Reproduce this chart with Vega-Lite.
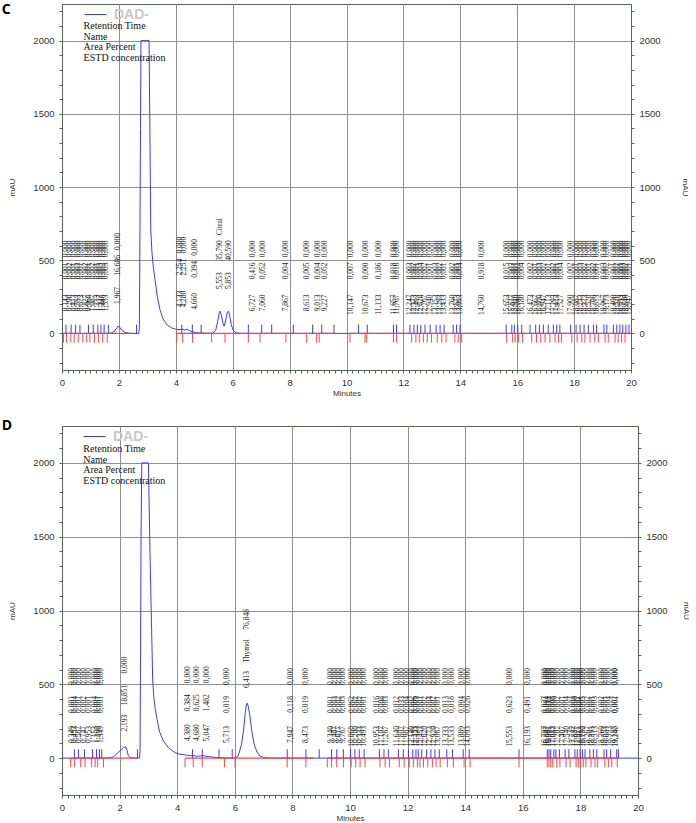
{
"$schema":"https://vega.github.io/schema/vega-lite/v6.json",
"background":"white",
"padding":{"left":1,"top":2,"right":0,"bottom":0},
"spacing":20,
"resolve":{"scale":{"color":"independent"},"legend":{"color":"independent"}},
"config":{
 "view":{"stroke":"#55655a","strokeWidth":1},
 "axis":{"labelFont":"Liberation Sans","labelFontSize":9.5,"labelColor":"#333333","titleFont":"Liberation Sans","titleFontSize":8,"titleFontWeight":"normal","titleColor":"#333333","domainColor":"#55655a","tickColor":"#55655a","tickSize":3,"gridColor":"#8f8f8f","gridWidth":1}
},
"datasets":{
 "cSig":[{"t":0,"v":0},{"t":1.6,"v":0},{"t":1.72,"v":2},{"t":1.82,"v":10},{"t":1.9,"v":30},{"t":1.97,"v":50},{"t":2.03,"v":42},{"t":2.1,"v":22},{"t":2.2,"v":8},{"t":2.32,"v":2},{"t":2.45,"v":0},{"t":2.7,"v":0},{"t":2.72,"v":40},{"t":2.74,"v":700},{"t":2.76,"v":1400},{"t":2.775,"v":2000},{"t":3.06,"v":2000},{"t":3.09,"v":1370},{"t":3.12,"v":709},{"t":3.16,"v":560},{"t":3.21,"v":450},{"t":3.27,"v":368},{"t":3.35,"v":250},{"t":3.44,"v":164},{"t":3.55,"v":100},{"t":3.68,"v":61},{"t":3.85,"v":38},{"t":4.03,"v":27},{"t":4.15,"v":25},{"t":4.22,"v":30},{"t":4.3,"v":24},{"t":4.38,"v":28},{"t":4.45,"v":22},{"t":4.55,"v":12},{"t":4.7,"v":5},{"t":4.9,"v":2},{"t":5.2,"v":1},{"t":5.3,"v":2},{"t":5.4,"v":20},{"t":5.47,"v":80},{"t":5.53,"v":145},{"t":5.56,"v":152},{"t":5.6,"v":125},{"t":5.66,"v":70},{"t":5.7,"v":50},{"t":5.75,"v":85},{"t":5.81,"v":145},{"t":5.85,"v":152},{"t":5.89,"v":125},{"t":5.95,"v":60},{"t":6.02,"v":20},{"t":6.12,"v":4},{"t":6.3,"v":0},{"t":20,"v":0}],
 "dSig":[{"t":0,"v":0},{"t":1.5,"v":0},{"t":1.67,"v":3},{"t":1.8,"v":10},{"t":1.94,"v":37},{"t":2.05,"v":55},{"t":2.13,"v":70},{"t":2.21,"v":77},{"t":2.26,"v":52},{"t":2.3,"v":18},{"t":2.36,"v":4},{"t":2.5,"v":0},{"t":2.69,"v":0},{"t":2.71,"v":50},{"t":2.725,"v":600},{"t":2.745,"v":1500},{"t":2.77,"v":2000},{"t":3.0,"v":2000},{"t":3.06,"v":1340},{"t":3.12,"v":800},{"t":3.15,"v":522},{"t":3.19,"v":409},{"t":3.24,"v":330},{"t":3.29,"v":273},{"t":3.38,"v":183},{"t":3.52,"v":115},{"t":3.7,"v":70},{"t":3.93,"v":36},{"t":4.1,"v":26},{"t":4.33,"v":20},{"t":4.45,"v":16},{"t":4.55,"v":18},{"t":4.65,"v":13},{"t":4.8,"v":14},{"t":4.9,"v":17},{"t":5.0,"v":12},{"t":5.1,"v":10},{"t":5.25,"v":6},{"t":5.45,"v":3},{"t":5.7,"v":1},{"t":6.0,"v":0},{"t":6.1,"v":10},{"t":6.16,"v":41},{"t":6.23,"v":90},{"t":6.3,"v":183},{"t":6.36,"v":300},{"t":6.4,"v":360},{"t":6.43,"v":373},{"t":6.47,"v":350},{"t":6.52,"v":290},{"t":6.59,"v":183},{"t":6.67,"v":95},{"t":6.77,"v":41},{"t":6.87,"v":15},{"t":7.0,"v":4},{"t":7.2,"v":0},{"t":20,"v":0}],
 "cBase":[{"t":0.05,"v":0,"seg":1},{"t":2.5,"v":0,"seg":1},{"t":4.0,"v":0,"seg":2},{"t":9.56,"v":0,"seg":2},{"t":10.12,"v":0,"seg":3},{"t":19.93,"v":0,"seg":3}],
 "dBase":[{"t":0.3,"v":0,"seg":1},{"t":2.6,"v":0,"seg":1},{"t":4.27,"v":0,"seg":2},{"t":8.75,"v":0,"seg":2},{"t":9.21,"v":0,"seg":3},{"t":19.28,"v":0,"seg":3}],
 "cStart":[{"t":0.14},{"t":0.32},{"t":0.48},{"t":0.63},{"t":0.93},{"t":1.1},{"t":1.26},{"t":1.37},{"t":1.48},{"t":1.63},{"t":2.62},{"t":4.21},{"t":4.58},{"t":4.89},{"t":6.55},{"t":7.02},{"t":7.37},{"t":8.13},{"t":8.81},{"t":9.13},{"t":9.56},{"t":10.42},{"t":10.73},{"t":11.65},{"t":11.76},{"t":12.23},{"t":12.37},{"t":12.49},{"t":12.61},{"t":12.76},{"t":12.94},{"t":13.15},{"t":13.29},{"t":13.43},{"t":13.75},{"t":13.87},{"t":13.99},{"t":15.61},{"t":15.81},{"t":15.9},{"t":16.02},{"t":16.16},{"t":16.45},{"t":16.65},{"t":16.78},{"t":16.92},{"t":17.09},{"t":17.27},{"t":17.39},{"t":17.5},{"t":17.88},{"t":18.07},{"t":18.21},{"t":18.35},{"t":18.5},{"t":18.68},{"t":18.79},{"t":19.05},{"t":19.15},{"t":19.38},{"t":19.5},{"t":19.61},{"t":19.71},{"t":19.82},{"t":19.93}],
 "cEnd":[{"t":0.05},{"t":0.16},{"t":0.31},{"t":0.43},{"t":0.57},{"t":0.73},{"t":0.87},{"t":0.98},{"t":1.14},{"t":1.28},{"t":1.43},{"t":1.59},{"t":4.03},{"t":4.24},{"t":4.59},{"t":5.26},{"t":5.73},{"t":6.55},{"t":6.96},{"t":7.87},{"t":8.6},{"t":8.95},{"t":9.04},{"t":10.12},{"t":10.65},{"t":10.71},{"t":11.65},{"t":11.76},{"t":12.29},{"t":12.44},{"t":12.56},{"t":12.7},{"t":12.84},{"t":12.99},{"t":13.19},{"t":13.35},{"t":13.5},{"t":13.81},{"t":13.93},{"t":14.05},{"t":15.63},{"t":15.84},{"t":15.93},{"t":16.05},{"t":16.19},{"t":16.51},{"t":16.68},{"t":16.83},{"t":16.98},{"t":17.15},{"t":17.33},{"t":17.45},{"t":17.56},{"t":17.92},{"t":18.11},{"t":18.27},{"t":18.38},{"t":18.56},{"t":18.73},{"t":18.85},{"t":19.09},{"t":19.2},{"t":19.44},{"t":19.55},{"t":19.67},{"t":19.79}],
 "dStart":[{"t":0.43},{"t":0.57},{"t":0.78},{"t":1.06},{"t":1.2},{"t":1.3},{"t":1.38},{"t":2.62},{"t":4.53},{"t":4.87},{"t":5.45},{"t":5.91},{"t":7.82},{"t":8.47},{"t":8.93},{"t":9.36},{"t":9.54},{"t":9.77},{"t":10.02},{"t":10.17},{"t":10.32},{"t":10.49},{"t":11.02},{"t":11.18},{"t":11.33},{"t":11.68},{"t":11.85},{"t":12.03},{"t":12.18},{"t":12.29},{"t":12.37},{"t":12.49},{"t":12.66},{"t":12.81},{"t":12.95},{"t":13.1},{"t":13.36},{"t":13.56},{"t":13.93},{"t":14.14},{"t":15.87},{"t":16.85},{"t":16.91},{"t":16.97},{"t":17.08},{"t":17.15},{"t":17.27},{"t":17.47},{"t":17.6},{"t":17.81},{"t":17.89},{"t":17.99},{"t":18.07},{"t":18.16},{"t":18.33},{"t":18.45},{"t":18.57},{"t":18.82},{"t":18.91},{"t":19.05},{"t":19.26},{"t":19.32}],
 "dEnd":[{"t":0.3},{"t":0.43},{"t":0.65},{"t":0.8},{"t":1.03},{"t":1.15},{"t":1.24},{"t":1.44},{"t":4.27},{"t":4.56},{"t":4.87},{"t":5.64},{"t":6.01},{"t":7.82},{"t":8.47},{"t":9.21},{"t":9.36},{"t":9.54},{"t":9.77},{"t":10.04},{"t":10.2},{"t":10.35},{"t":10.52},{"t":11.04},{"t":11.22},{"t":11.37},{"t":11.71},{"t":11.88},{"t":12.06},{"t":12.2},{"t":12.34},{"t":12.43},{"t":12.55},{"t":12.7},{"t":12.86},{"t":12.99},{"t":13.13},{"t":13.38},{"t":13.59},{"t":13.96},{"t":14.17},{"t":15.87},{"t":16.85},{"t":16.91},{"t":16.97},{"t":17.04},{"t":17.18},{"t":17.29},{"t":17.5},{"t":17.64},{"t":17.85},{"t":17.93},{"t":18.01},{"t":18.1},{"t":18.19},{"t":18.37},{"t":18.51},{"t":18.6},{"t":18.85},{"t":18.97},{"t":19.09},{"t":19.28}],
 "cPeaks":[
{"t":0.143,"rt":"0,143","name":"","area":"0,001","conc":"0,000","h":0},
{"t":0.29,"rt":"0,290","name":"","area":"0,002","conc":"0,000","h":0},
{"t":0.413,"rt":"0,413","name":"","area":"0,001","conc":"0,000","h":0},
{"t":0.553,"rt":"0,553","name":"","area":"0,003","conc":"0,000","h":0},
{"t":0.673,"rt":"0,673","name":"","area":"0,001","conc":"0,000","h":0},
{"t":0.827,"rt":"0,827","name":"","area":"0,002","conc":"0,000","h":0},
{"t":0.96,"rt":"0,960","name":"","area":"0,001","conc":"0,000","h":0},
{"t":1.087,"rt":"1,087","name":"","area":"0,002","conc":"0,000","h":0},
{"t":1.213,"rt":"1,213","name":"","area":"0,001","conc":"0,000","h":0},
{"t":1.327,"rt":"1,327","name":"","area":"0,003","conc":"0,000","h":0},
{"t":1.44,"rt":"1,440","name":"","area":"0,002","conc":"0,000","h":0},
{"t":1.553,"rt":"1,553","name":"","area":"0,003","conc":"0,000","h":0},
{"t":1.967,"rt":"1,967","name":"","area":"16,686","conc":"0,000","h":50},
{"t":4.133,"rt":"4,133","name":"","area":"2,254","conc":"0,000","h":25},
{"t":4.28,"rt":"4,280","name":"","area":"2,251","conc":"0,000","h":25},
{"t":4.66,"rt":"4,660","name":"","area":"0,394","conc":"0,000","h":10},
{"t":5.553,"rt":"5,553","name":"Citral","area":"35,790","conc":"","h":152},
{"t":5.853,"rt":"5,853","name":"","area":"40,590","conc":"","h":152},
{"t":6.727,"rt":"6,727","name":"","area":"0,416","conc":"0,000","h":0},
{"t":7.06,"rt":"7,060","name":"","area":"0,052","conc":"0,000","h":0},
{"t":7.867,"rt":"7,867","name":"","area":"0,004","conc":"0,000","h":0},
{"t":8.613,"rt":"8,613","name":"","area":"0,005","conc":"0,000","h":0},
{"t":9.013,"rt":"9,013","name":"","area":"0,004","conc":"0,000","h":0},
{"t":9.227,"rt":"9,227","name":"","area":"0,052","conc":"0,000","h":0},
{"t":10.147,"rt":"10,147","name":"","area":"0,007","conc":"0,000","h":0},
{"t":10.673,"rt":"10,673","name":"","area":"0,000","conc":"0,000","h":0},
{"t":11.133,"rt":"11,133","name":"","area":"0,186","conc":"0,000","h":0},
{"t":11.657,"rt":"11,657","name":"","area":"0,018","conc":"0,000","h":0},
{"t":11.767,"rt":"11,767","name":"","area":"0,016","conc":"0,000","h":0},
{"t":12.247,"rt":"12,247","name":"","area":"0,003","conc":"0,000","h":0},
{"t":12.373,"rt":"12,373","name":"","area":"0,002","conc":"0,000","h":0},
{"t":12.493,"rt":"12,493","name":"","area":"0,001","conc":"0,000","h":0},
{"t":12.62,"rt":"12,620","name":"","area":"0,004","conc":"0,000","h":0},
{"t":12.767,"rt":"12,767","name":"","area":"0,002","conc":"0,000","h":0},
{"t":12.94,"rt":"12,940","name":"","area":"0,001","conc":"0,000","h":0},
{"t":13.153,"rt":"13,153","name":"","area":"0,003","conc":"0,000","h":0},
{"t":13.293,"rt":"13,293","name":"","area":"0,002","conc":"0,000","h":0},
{"t":13.433,"rt":"13,433","name":"","area":"0,001","conc":"0,000","h":0},
{"t":13.76,"rt":"13,760","name":"","area":"0,002","conc":"0,000","h":0},
{"t":13.873,"rt":"13,873","name":"","area":"0,001","conc":"0,000","h":0},
{"t":13.993,"rt":"13,993","name":"","area":"0,004","conc":"0,000","h":0},
{"t":14.76,"rt":"14,760","name":"","area":"0,918","conc":"0,000","h":0},
{"t":15.653,"rt":"15,653","name":"","area":"0,015","conc":"0,000","h":0},
{"t":15.827,"rt":"15,827","name":"","area":"0,003","conc":"0,000","h":0},
{"t":15.92,"rt":"15,920","name":"","area":"0,001","conc":"0,000","h":0},
{"t":16.04,"rt":"16,040","name":"","area":"0,002","conc":"0,000","h":0},
{"t":16.18,"rt":"16,180","name":"","area":"0,004","conc":"0,000","h":0},
{"t":16.473,"rt":"16,473","name":"","area":"0,002","conc":"0,000","h":0},
{"t":16.667,"rt":"16,667","name":"","area":"0,001","conc":"0,000","h":0},
{"t":16.8,"rt":"16,800","name":"","area":"0,003","conc":"0,000","h":0},
{"t":16.947,"rt":"16,947","name":"","area":"0,002","conc":"0,000","h":0},
{"t":17.113,"rt":"17,113","name":"","area":"0,001","conc":"0,000","h":0},
{"t":17.293,"rt":"17,293","name":"","area":"0,002","conc":"0,000","h":0},
{"t":17.413,"rt":"17,413","name":"","area":"0,001","conc":"0,000","h":0},
{"t":17.527,"rt":"17,527","name":"","area":"0,004","conc":"0,000","h":0},
{"t":17.9,"rt":"17,900","name":"","area":"0,002","conc":"0,000","h":0},
{"t":18.087,"rt":"18,087","name":"","area":"0,001","conc":"0,000","h":0},
{"t":18.233,"rt":"18,233","name":"","area":"0,003","conc":"0,000","h":0},
{"t":18.373,"rt":"18,373","name":"","area":"0,002","conc":"0,000","h":0},
{"t":18.52,"rt":"18,520","name":"","area":"0,001","conc":"0,000","h":0},
{"t":18.7,"rt":"18,700","name":"","area":"0,002","conc":"0,000","h":0},
{"t":18.813,"rt":"18,813","name":"","area":"0,001","conc":"0,000","h":0},
{"t":19.067,"rt":"19,067","name":"","area":"0,003","conc":"0,000","h":0},
{"t":19.173,"rt":"19,173","name":"","area":"0,002","conc":"0,000","h":0},
{"t":19.4,"rt":"19,400","name":"","area":"0,001","conc":"0,000","h":0},
{"t":19.52,"rt":"19,520","name":"","area":"0,002","conc":"0,000","h":0},
{"t":19.633,"rt":"19,633","name":"","area":"0,001","conc":"0,000","h":0},
{"t":19.733,"rt":"19,733","name":"","area":"0,003","conc":"0,000","h":0},
{"t":19.84,"rt":"19,840","name":"","area":"0,002","conc":"0,000","h":0},
{"t":19.947,"rt":"19,947","name":"","area":"0,001","conc":"0,000","h":0}],
 "dPeaks":[
{"t":0.349,"rt":"0,349","name":"","area":"0,001","conc":"0,000","h":0},
{"t":0.453,"rt":"0,453","name":"","area":"0,004","conc":"0,000","h":0},
{"t":0.587,"rt":"0,587","name":"","area":"0,001","conc":"0,000","h":0},
{"t":0.747,"rt":"0,747","name":"","area":"0,002","conc":"0,000","h":0},
{"t":0.953,"rt":"0,953","name":"","area":"0,001","conc":"0,000","h":0},
{"t":1.153,"rt":"1,153","name":"","area":"0,004","conc":"0,000","h":0},
{"t":1.26,"rt":"1,260","name":"","area":"0,001","conc":"0,000","h":0},
{"t":1.349,"rt":"1,349","name":"","area":"0,001","conc":"0,000","h":0},
{"t":2.193,"rt":"2,193","name":"","area":"18,851","conc":"0,000","h":77},
{"t":4.38,"rt":"4,380","name":"","area":"0,384","conc":"0,000","h":12},
{"t":4.68,"rt":"4,680","name":"","area":"0,625","conc":"0,000","h":12},
{"t":5.047,"rt":"5,047","name":"","area":"1,482","conc":"0,000","h":12},
{"t":5.713,"rt":"5,713","name":"","area":"0,019","conc":"0,000","h":0},
{"t":6.413,"rt":"6,413","name":"Thymol","area":"76,848","conc":"","h":373},
{"t":7.947,"rt":"7,947","name":"","area":"0,118","conc":"0,000","h":0},
{"t":8.473,"rt":"8,473","name":"","area":"0,019","conc":"0,000","h":0},
{"t":9.34,"rt":"9,340","name":"","area":"0,001","conc":"0,000","h":0},
{"t":9.487,"rt":"9,487","name":"","area":"0,003","conc":"0,000","h":0},
{"t":9.617,"rt":"9,617","name":"","area":"0,002","conc":"0,000","h":0},
{"t":9.767,"rt":"9,767","name":"","area":"0,003","conc":"0,000","h":0},
{"t":10.06,"rt":"10,060","name":"","area":"0,062","conc":"0,000","h":0},
{"t":10.2,"rt":"10,200","name":"","area":"0,062","conc":"0,000","h":0},
{"t":10.333,"rt":"10,333","name":"","area":"0,002","conc":"0,000","h":0},
{"t":10.493,"rt":"10,493","name":"","area":"0,001","conc":"0,000","h":0},
{"t":10.953,"rt":"10,953","name":"","area":"0,016","conc":"0,000","h":0},
{"t":11.107,"rt":"11,107","name":"","area":"0,008","conc":"0,000","h":0},
{"t":11.267,"rt":"11,267","name":"","area":"0,003","conc":"0,000","h":0},
{"t":11.64,"rt":"11,640","name":"","area":"0,012","conc":"0,000","h":0},
{"t":11.807,"rt":"11,807","name":"","area":"0,033","conc":"0,000","h":0},
{"t":11.987,"rt":"11,987","name":"","area":"0,004","conc":"0,000","h":0},
{"t":12.14,"rt":"12,140","name":"","area":"0,002","conc":"0,000","h":0},
{"t":12.253,"rt":"12,253","name":"","area":"0,006","conc":"0,000","h":0},
{"t":12.333,"rt":"12,333","name":"","area":"0,003","conc":"0,000","h":0},
{"t":12.453,"rt":"12,453","name":"","area":"0,001","conc":"0,000","h":0},
{"t":12.62,"rt":"12,620","name":"","area":"0,002","conc":"0,000","h":0},
{"t":12.773,"rt":"12,773","name":"","area":"0,004","conc":"0,000","h":0},
{"t":12.92,"rt":"12,920","name":"","area":"0,002","conc":"0,000","h":0},
{"t":13.067,"rt":"13,067","name":"","area":"0,001","conc":"0,000","h":0},
{"t":13.333,"rt":"13,333","name":"","area":"0,013","conc":"0,000","h":0},
{"t":13.533,"rt":"13,533","name":"","area":"0,018","conc":"0,000","h":0},
{"t":13.889,"rt":"13,889","name":"","area":"0,004","conc":"0,000","h":0},
{"t":14.093,"rt":"14,093","name":"","area":"0,026","conc":"0,000","h":0},
{"t":15.553,"rt":"15,553","name":"","area":"0,623","conc":"0,000","h":0},
{"t":16.193,"rt":"16,193","name":"","area":"0,491","conc":"0,000","h":0},
{"t":16.787,"rt":"16,787","name":"","area":"0,027","conc":"0,000","h":0},
{"t":16.847,"rt":"16,847","name":"","area":"0,004","conc":"0,000","h":0},
{"t":16.907,"rt":"16,907","name":"","area":"0,012","conc":"0,000","h":0},
{"t":17.013,"rt":"17,013","name":"","area":"0,003","conc":"0,000","h":0},
{"t":17.087,"rt":"17,087","name":"","area":"0,006","conc":"0,000","h":0},
{"t":17.207,"rt":"17,207","name":"","area":"0,002","conc":"0,000","h":0},
{"t":17.407,"rt":"17,407","name":"","area":"0,001","conc":"0,000","h":0},
{"t":17.54,"rt":"17,540","name":"","area":"0,004","conc":"0,000","h":0},
{"t":17.747,"rt":"17,747","name":"","area":"0,003","conc":"0,000","h":0},
{"t":17.827,"rt":"17,827","name":"","area":"0,008","conc":"0,000","h":0},
{"t":17.927,"rt":"17,927","name":"","area":"0,002","conc":"0,000","h":0},
{"t":18.013,"rt":"18,013","name":"","area":"0,001","conc":"0,000","h":0},
{"t":18.1,"rt":"18,100","name":"","area":"0,005","conc":"0,000","h":0},
{"t":18.267,"rt":"18,267","name":"","area":"0,002","conc":"0,000","h":0},
{"t":18.393,"rt":"18,393","name":"","area":"0,001","conc":"0,000","h":0},
{"t":18.513,"rt":"18,513","name":"","area":"0,003","conc":"0,000","h":0},
{"t":18.76,"rt":"18,760","name":"","area":"0,002","conc":"0,000","h":0},
{"t":18.853,"rt":"18,853","name":"","area":"0,001","conc":"0,000","h":0},
{"t":18.993,"rt":"18,993","name":"","area":"0,004","conc":"0,000","h":0},
{"t":19.187,"rt":"19,187","name":"","area":"0,002","conc":"0,000","h":0},
{"t":19.24,"rt":"19,240","name":"","area":"0,001","conc":"0,000","h":0}]
},
"vconcat":[
{
 "width":569,"height":366,
 "title":{"text":"C","anchor":"start","frame":"bounds","orient":"top","baseline":"top","offset":-14,"dx":-7,"font":"Open Sans","fontSize":14,"fontWeight":"bold","color":"#000000"},
 "resolve":{"axis":{"y":"independent"}},
 "layer":[
  {"data":{"name":"cSig"},"mark":{"type":"line","strokeWidth":1},
   "encoding":{
    "x":{"field":"t","type":"quantitative","scale":{"domain":[0,20],"nice":false,"zero":false},
     "axis":{"values":[0,0.2,0.4,0.6,0.8,1,1.2,1.4,1.6,1.8,2,2.2,2.4,2.6,2.8,3,3.2,3.4,3.6,3.8,4,4.2,4.4,4.6,4.8,5,5.2,5.4,5.6,5.8,6,6.2,6.4,6.6,6.8,7,7.2,7.4,7.6,7.8,8,8.2,8.4,8.6,8.8,9,9.2,9.4,9.6,9.8,10,10.2,10.4,10.6,10.8,11,11.2,11.4,11.6,11.8,12,12.2,12.4,12.6,12.8,13,13.2,13.4,13.6,13.8,14,14.2,14.4,14.6,14.8,15,15.2,15.4,15.6,15.8,16,16.2,16.4,16.6,16.8,17,17.2,17.4,17.6,17.8,18,18.2,18.4,18.6,18.8,19,19.2,19.4,19.6,19.8,20],
      "tickCount":1000,"labelExpr":"datum.value % 2 === 0 ? format(datum.value, 'd') : ''","labelFlush":false,"labelOverlap":false,"labelPadding":4,
      "grid":true,"gridOpacity":{"condition":{"test":"datum.value % 2 === 0 && datum.value > 0 && datum.value < 20","value":1},"value":0},
      "title":"Minutes","titlePadding":3}},
    "y":{"field":"v","type":"quantitative","scale":{"domain":[-250,2250],"nice":false,"zero":false},
     "axis":{"orient":"left","values":[-200,-100,0,100,200,300,400,500,600,700,800,900,1000,1100,1200,1300,1400,1500,1600,1700,1800,1900,2000,2100,2200],"tickCount":1000,
      "labelExpr":"datum.value % 500 === 0 ? format(datum.value, 'd') : ''","labelOverlap":false,"labelFlush":false,"labelPadding":5,
      "grid":true,"gridOpacity":{"condition":{"test":"datum.value % 500 === 0 && datum.value > 0","value":1},"value":0},
      "title":"mAU","titlePadding":16}},
    "color":{"datum":"DAD-","scale":{"range":["#3a3aff"]},
     "legend":{"orient":"none","legendX":22,"legendY":-1,"title":null,"symbolType":"stroke","symbolSize":484,"symbolStrokeWidth":1,"symbolStrokeColor":"#3a3aff","labelFont":"Liberation Sans","labelFontSize":14,"labelFontWeight":"bold","labelColor":"#c8c8c8","labelOffset":7,"padding":0}}
   }},
  {"data":{"name":"cBase"},"mark":{"type":"line","color":"#ff4040","strokeWidth":1.2},
   "encoding":{"x":{"field":"t","type":"quantitative"},"y":{"field":"v","type":"quantitative","axis":null},"detail":{"field":"seg"}}},
  {"data":{"name":"cStart"},"mark":{"type":"rule","color":"#3a3aff","strokeWidth":1},
   "encoding":{"x":{"field":"t","type":"quantitative"},"y":{"datum":0,"axis":null},"y2":{"datum":60}}},
  {"data":{"name":"cEnd"},"mark":{"type":"rule","color":"#ff4545","strokeWidth":1},
   "encoding":{"x":{"field":"t","type":"quantitative"},"y":{"datum":0,"axis":null},"y2":{"datum":-63}}},
  {"data":{"name":"cPeaks"},"mark":{"type":"text","angle":270,"align":"right","baseline":"middle","dx":39,"font":"Liberation Serif","fontSize":7.5,"color":"#222222"},
   "encoding":{"x":{"field":"t","type":"quantitative"},
    "y":{"field":"h","type":"quantitative","axis":{"orient":"right","values":[-200,-100,0,100,200,300,400,500,600,700,800,900,1000,1100,1200,1300,1400,1500,1600,1700,1800,1900,2000,2100,2200],"tickCount":1000,"labelExpr":"datum.value % 500 === 0 ? format(datum.value, 'd') : ''","labelOverlap":false,"labelFlush":false,"labelPadding":5,"grid":false,"title":"mAU","titlePadding":20}},
    "text":{"field":"rt"}}},
  {"data":{"name":"cPeaks"},"mark":{"type":"text","angle":270,"align":"right","baseline":"middle","dx":71,"font":"Liberation Serif","fontSize":7.5,"color":"#222222"},
   "encoding":{"x":{"field":"t","type":"quantitative"},"y":{"field":"h","type":"quantitative","axis":null},"text":{"field":"area"}}},
  {"data":{"name":"cPeaks"},"transform":[{"filter":"datum.name === ''"}],"mark":{"type":"text","angle":270,"align":"right","baseline":"middle","dx":93,"font":"Liberation Serif","fontSize":7.5,"color":"#222222"},
   "encoding":{"x":{"field":"t","type":"quantitative"},"y":{"field":"h","type":"quantitative","axis":null},"text":{"field":"conc"}}},
  {"data":{"name":"cPeaks"},"transform":[{"filter":"datum.name !== ''"}],"mark":{"type":"text","angle":270,"align":"right","baseline":"middle","dx":93,"font":"Liberation Serif","fontSize":7.5,"color":"#222222"},
   "encoding":{"x":{"field":"t","type":"quantitative"},"y":{"field":"h","type":"quantitative","axis":null},"text":{"field":"name"}}},
  {"data":{"values":[{}]},"mark":{"type":"text","align":"left","baseline":"middle","lineHeight":10.7,"font":"Liberation Serif","fontSize":10,"color":"#111111"},
   "encoding":{"x":{"datum":0.76},"y":{"datum":2100,"axis":null},"text":{"value":["Retention Time","Name","Area Percent","ESTD concentration"]}}}
 ]
},
{
 "width":576,"height":369,
 "title":{"text":"D","anchor":"start","frame":"bounds","orient":"top","baseline":"top","offset":-8,"dx":-7,"font":"Open Sans","fontSize":14,"fontWeight":"bold","color":"#000000"},
 "resolve":{"axis":{"y":"independent"}},
 "layer":[
  {"data":{"name":"dSig"},"mark":{"type":"line","strokeWidth":1},
   "encoding":{
    "x":{"field":"t","type":"quantitative","scale":{"domain":[0,20],"nice":false,"zero":false},
     "axis":{"values":[0,0.2,0.4,0.6,0.8,1,1.2,1.4,1.6,1.8,2,2.2,2.4,2.6,2.8,3,3.2,3.4,3.6,3.8,4,4.2,4.4,4.6,4.8,5,5.2,5.4,5.6,5.8,6,6.2,6.4,6.6,6.8,7,7.2,7.4,7.6,7.8,8,8.2,8.4,8.6,8.8,9,9.2,9.4,9.6,9.8,10,10.2,10.4,10.6,10.8,11,11.2,11.4,11.6,11.8,12,12.2,12.4,12.6,12.8,13,13.2,13.4,13.6,13.8,14,14.2,14.4,14.6,14.8,15,15.2,15.4,15.6,15.8,16,16.2,16.4,16.6,16.8,17,17.2,17.4,17.6,17.8,18,18.2,18.4,18.6,18.8,19,19.2,19.4,19.6,19.8,20],
      "tickCount":1000,"labelExpr":"datum.value % 2 === 0 ? format(datum.value, 'd') : ''","labelFlush":false,"labelOverlap":false,"labelPadding":4,
      "grid":true,"gridOpacity":{"condition":{"test":"datum.value % 2 === 0 && datum.value > 0 && datum.value < 20","value":1},"value":0},
      "title":"Minutes","titlePadding":3}},
    "y":{"field":"v","type":"quantitative","scale":{"domain":[-250,2250],"nice":false,"zero":false},
     "axis":{"orient":"left","values":[-200,-100,0,100,200,300,400,500,600,700,800,900,1000,1100,1200,1300,1400,1500,1600,1700,1800,1900,2000,2100,2200],"tickCount":1000,
      "labelExpr":"datum.value % 500 === 0 ? format(datum.value, 'd') : ''","labelOverlap":false,"labelFlush":false,"labelPadding":5,
      "grid":true,"gridOpacity":{"condition":{"test":"datum.value % 500 === 0 && datum.value > 0","value":1},"value":0},
      "title":"mAU","titlePadding":16}},
    "color":{"datum":"DAD-","scale":{"range":["#3a3aff"]},
     "legend":{"orient":"none","legendX":21,"legendY":-1,"title":null,"symbolType":"stroke","symbolSize":484,"symbolStrokeWidth":1,"symbolStrokeColor":"#3a3aff","labelFont":"Liberation Sans","labelFontSize":14,"labelFontWeight":"bold","labelColor":"#c8c8c8","labelOffset":7,"padding":0}}
   }},
  {"data":{"name":"dBase"},"mark":{"type":"line","color":"#ff4040","strokeWidth":1.2},
   "encoding":{"x":{"field":"t","type":"quantitative"},"y":{"field":"v","type":"quantitative","axis":null},"detail":{"field":"seg"}}},
  {"data":{"name":"dStart"},"mark":{"type":"rule","color":"#3a3aff","strokeWidth":1},
   "encoding":{"x":{"field":"t","type":"quantitative"},"y":{"datum":0,"axis":null},"y2":{"datum":60}}},
  {"data":{"name":"dEnd"},"mark":{"type":"rule","color":"#ff4545","strokeWidth":1},
   "encoding":{"x":{"field":"t","type":"quantitative"},"y":{"datum":0,"axis":null},"y2":{"datum":-63}}},
  {"data":{"name":"dPeaks"},"mark":{"type":"text","angle":270,"align":"right","baseline":"middle","dx":32,"font":"Liberation Serif","fontSize":7.5,"color":"#222222"},
   "encoding":{"x":{"field":"t","type":"quantitative"},
    "y":{"field":"h","type":"quantitative","axis":{"orient":"right","values":[-200,-100,0,100,200,300,400,500,600,700,800,900,1000,1100,1200,1300,1400,1500,1600,1700,1800,1900,2000,2100,2200],"tickCount":1000,"labelExpr":"datum.value % 500 === 0 ? format(datum.value, 'd') : ''","labelOverlap":false,"labelFlush":false,"labelPadding":5,"grid":false,"title":"mAU","titlePadding":14}},
    "text":{"field":"rt"}}},
  {"data":{"name":"dPeaks"},"transform":[{"filter":"datum.name === ''"}],"mark":{"type":"text","angle":270,"align":"right","baseline":"middle","dx":62,"font":"Liberation Serif","fontSize":7.5,"color":"#222222"},
   "encoding":{"x":{"field":"t","type":"quantitative"},"y":{"field":"h","type":"quantitative","axis":null},"text":{"field":"area"}}},
  {"data":{"name":"dPeaks"},"transform":[{"filter":"datum.name === ''"}],"mark":{"type":"text","angle":270,"align":"right","baseline":"middle","dx":90,"font":"Liberation Serif","fontSize":7.5,"color":"#222222"},
   "encoding":{"x":{"field":"t","type":"quantitative"},"y":{"field":"h","type":"quantitative","axis":null},"text":{"field":"conc"}}},
  {"data":{"name":"dPeaks"},"transform":[{"filter":"datum.name !== ''"}],"mark":{"type":"text","angle":270,"align":"right","baseline":"middle","dx":64,"font":"Liberation Serif","fontSize":7.5,"color":"#222222"},
   "encoding":{"x":{"field":"t","type":"quantitative"},"y":{"field":"h","type":"quantitative","axis":null},"text":{"field":"name"}}},
  {"data":{"name":"dPeaks"},"transform":[{"filter":"datum.name !== ''"}],"mark":{"type":"text","angle":270,"align":"right","baseline":"middle","dx":94,"font":"Liberation Serif","fontSize":7.5,"color":"#222222"},
   "encoding":{"x":{"field":"t","type":"quantitative"},"y":{"field":"h","type":"quantitative","axis":null},"text":{"field":"area"}}},
  {"data":{"values":[{}]},"mark":{"type":"text","align":"left","baseline":"middle","lineHeight":10.7,"font":"Liberation Serif","fontSize":10,"color":"#111111"},
   "encoding":{"x":{"datum":0.74},"y":{"datum":2094,"axis":null},"text":{"value":["Retention Time","Name","Area Percent","ESTD concentration"]}}}
 ]
}
]
}
